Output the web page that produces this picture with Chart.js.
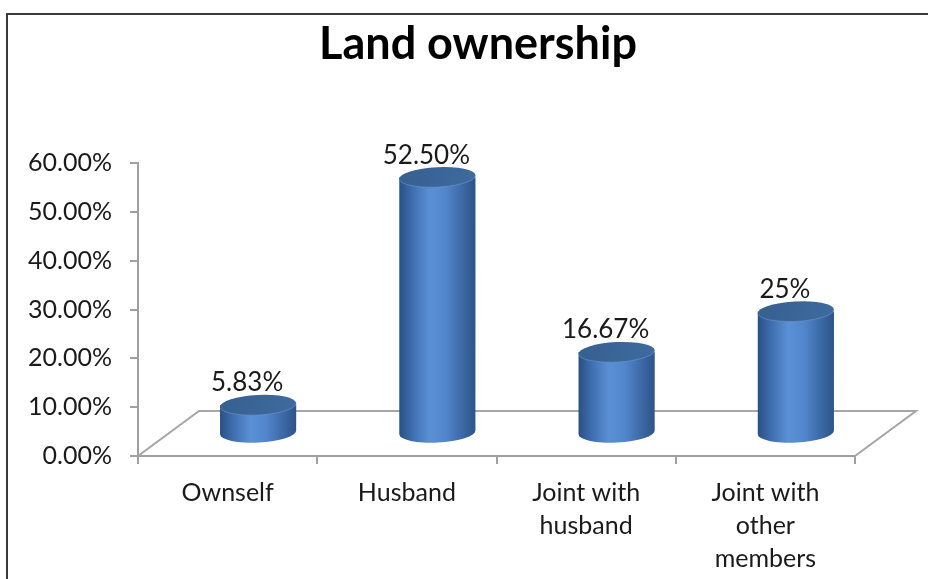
<!DOCTYPE html>
<html>
<head>
<meta charset="utf-8">
<script src="https://cdn.jsdelivr.net/npm/chart.js@4.4.1/dist/chart.umd.min.js"></script>
<style>
  body { margin: 0; background: #fff; }
  canvas { display: block; }
</style>
</head>
<body>
<canvas id="myChart" width="928" height="579"></canvas>
<script>
// data
var chartTitle = 'Land ownership';
var categorias = ['Ownself', 'Husband', ['Joint with', 'husband'], ['Joint with', 'other', 'members']];
var valores = [0.0583, 0.525, 0.1667, 0.25];
var rotulos = ['5.83%', '52.50%', '16.67%', '25%'];

var depthX = 61, depthY = -45; // 3d floor offset

var cilindros = {
    id: 'cilindros',
    beforeDraw: function (chart) {
        var ctx = chart.ctx;
        ctx.save();
        ctx.fillStyle = '#fff';
        ctx.fillRect(0, 0, chart.width, chart.height);
        // frame
        ctx.strokeStyle = '#3a3a3a';
        ctx.lineWidth = 2;
        ctx.beginPath();
        ctx.moveTo(7, chart.height);
        ctx.lineTo(7, 14);
        ctx.lineTo(chart.width, 14);
        ctx.stroke();
        // title
        ctx.fillStyle = '#000';
        ctx.font = 'bold 45px Lato';
        ctx.textAlign = 'center';
        ctx.textBaseline = 'middle';
        ctx.fillText(chartTitle, 478, 44);
        ctx.restore();
    },
    afterDatasetsDraw: function (chart) {
        var ctx = chart.ctx;
        var area = chart.chartArea;
        var y0 = chart.scales.y.getPixelForValue(0);
        ctx.save();
        // floor
        ctx.strokeStyle = '#a6a6a6';
        ctx.lineWidth = 2;
        ctx.beginPath();
        ctx.moveTo(area.left, y0);
        ctx.lineTo(area.left + depthX, y0 + depthY);
        ctx.lineTo(area.right + depthX, y0 + depthY);
        ctx.lineTo(area.right, y0);
        ctx.stroke();

        var meta = chart.getDatasetMeta(0);
        meta.data.forEach(function (bar, i) {
            var r = bar.width / 2;
            var cx = bar.x + depthX / 2;
            var ty = bar.y + depthY / 2;
            var by = bar.base + depthY / 2;
            var ry = 10;
            var rot = -0.05;

            var g = ctx.createLinearGradient(cx - r, 0, cx + r, 0);
            g.addColorStop(0, '#2a5085');
            g.addColorStop(0.18, '#3f6fb0');
            g.addColorStop(0.4, '#5b90d6');
            g.addColorStop(0.6, '#5287cd');
            g.addColorStop(0.85, '#3a66a2');
            g.addColorStop(1, '#2c5488');
            ctx.fillStyle = g;
            ctx.beginPath();
            ctx.moveTo(cx - r, ty);
            ctx.lineTo(cx - r, by);
            ctx.ellipse(cx, by, r, ry, rot, Math.PI, 0, true);
            ctx.lineTo(cx + r, ty);
            ctx.closePath();
            ctx.fill();

            var gt = ctx.createLinearGradient(cx - r, ty - ry, cx + r, ty + ry);
            gt.addColorStop(0, '#36608f');
            gt.addColorStop(1, '#3f6a9f');
            ctx.fillStyle = gt;
            ctx.beginPath();
            ctx.ellipse(cx, ty, r, ry, rot, 0, Math.PI * 2);
            ctx.fill();
            ctx.strokeStyle = 'rgba(110,150,205,0.6)';
            ctx.lineWidth = 1;
            ctx.beginPath();
            ctx.ellipse(cx, ty, r, ry, rot, 0.1, Math.PI - 0.1);
            ctx.stroke();

            // data label
            ctx.fillStyle = '#1a1a1a';
            ctx.font = '26px Lato';
            ctx.textAlign = 'center';
            ctx.textBaseline = 'middle';
            ctx.fillText(rotulos[i], cx - 11, ty - 22);
        });
        ctx.restore();
    }
};

const ctx = document.getElementById('myChart');
var chart = new Chart(ctx, {
    type: 'bar',
    data: {
        labels: categorias,
        datasets: [{
            label: chartTitle,
            data: valores,
            backgroundColor: 'rgba(0,0,0,0)',
            borderWidth: 0,
            categoryPercentage: 1,
            barPercentage: 0.425
        }]
    },
    options: {
        responsive: false,
        animation: false,
        layout: { padding: { top: 163, right: 73, left: 0, bottom: 0 } },
        plugins: {
            legend: { display: false },
            title: { display: false },
            tooltip: { enabled: false }
        },
        scales: {
            x: {
                afterFit: function (scale) { scale.height = 123; },
                grid: {
                    offset: true,
                    drawOnChartArea: false,
                    tickLength: 8,
                    color: '#a0a0a0',
                    lineWidth: 2
                },
                border: { color: '#a0a0a0', width: 2 },
                ticks: {
                    color: '#1a1a1a',
                    padding: 12,
                    maxRotation: 0,
                    font: { family: 'Lato', size: 25, lineHeight: 1.32 }
                }
            },
            y: {
                min: 0,
                max: 0.6,
                afterFit: function (scale) { scale.width = 138; },
                grid: {
                    drawOnChartArea: false,
                    tickLength: 8,
                    color: '#a0a0a0',
                    lineWidth: 2
                },
                border: { color: '#a0a0a0', width: 2 },
                ticks: {
                    stepSize: 0.1,
                    color: '#1a1a1a',
                    padding: 18,
                    font: { family: 'Lato', size: 25 },
                    callback: function (v) { return (v * 100).toFixed(2) + '%'; }
                }
            }
        }
    },
    plugins: [cilindros]
});
</script>
</body>
</html>
